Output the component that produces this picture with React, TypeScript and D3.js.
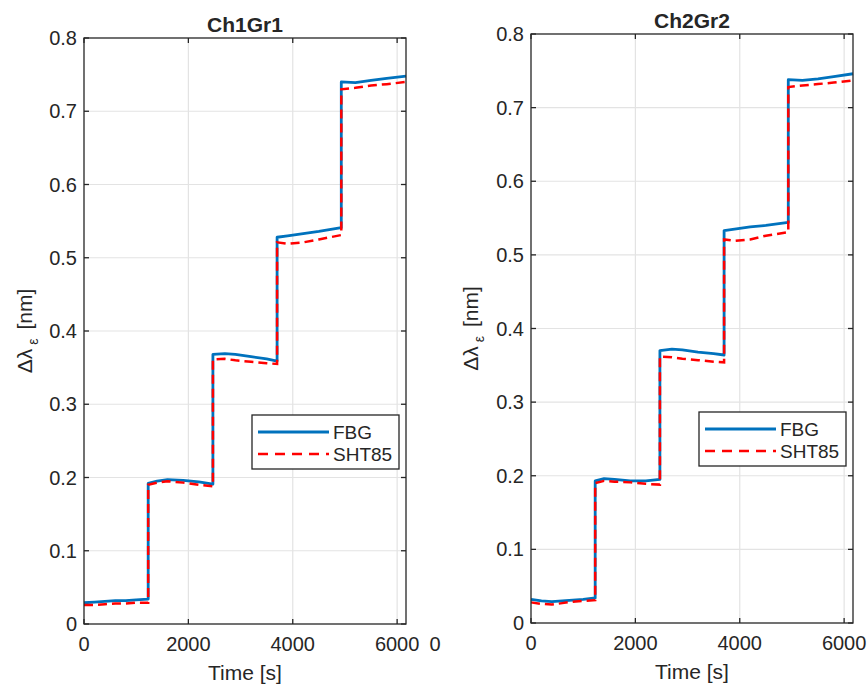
import * as d3 from "d3";

// shared time axis (s); repeated times make the vertical steps
const times = [
    0, 200, 400, 600, 800, 1000, 1230,
    1230, 1400, 1600, 1900, 2200, 2470,
    2470, 2700, 2900, 3200, 3500, 3700,
    3700, 3900, 4200, 4500, 4930,
    4930, 5200, 5500, 5800, 6170,
];

const ch1Fbg = [
    0.029, 0.030, 0.031, 0.032, 0.032, 0.033, 0.034,
    0.192, 0.195, 0.197, 0.196, 0.194, 0.191,
    0.368, 0.369, 0.368, 0.365, 0.362, 0.359,
    0.528, 0.530, 0.533, 0.536, 0.541,
    0.740, 0.739, 0.742, 0.745, 0.748,
];
const ch1Sht = [
    0.026, 0.026, 0.027, 0.028, 0.028, 0.029, 0.029,
    0.190, 0.193, 0.195, 0.193, 0.190, 0.188,
    0.361, 0.362, 0.360, 0.358, 0.356, 0.355,
    0.521, 0.519, 0.521, 0.525, 0.531,
    0.730, 0.732, 0.735, 0.737, 0.740,
];
const ch2Fbg = [
    0.032, 0.030, 0.029, 0.030, 0.031, 0.032, 0.034,
    0.193, 0.196, 0.195, 0.193, 0.193, 0.195,
    0.370, 0.372, 0.371, 0.368, 0.366, 0.364,
    0.533, 0.535, 0.538, 0.540, 0.544,
    0.738, 0.737, 0.739, 0.742, 0.746,
];
const ch2Sht = [
    0.028, 0.026, 0.025, 0.027, 0.029, 0.030, 0.031,
    0.190, 0.193, 0.192, 0.191, 0.189, 0.188,
    0.362, 0.361, 0.359, 0.357, 0.355, 0.354,
    0.521, 0.519, 0.521, 0.526, 0.531,
    0.728, 0.730, 0.732, 0.734, 0.737,
];

const xTicks = [0, 2000, 4000, 6000];
const yTicks = [0, 0.1, 0.2, 0.3, 0.4, 0.5, 0.6, 0.7, 0.8];
const legendNames = ["FBG", "SHT85"];

const FONT = "'Liberation Sans', Arial, sans-serif";
const INK = "#262626";
const BLUE = "#0072BD";
const RED = "#FF0000";

interface PanelProps {
    title: string;
    fbg: number[];
    sht: number[];
    left: number;
    right: number;
    top: number;
    bottom: number;
    labelX: number;
    legendX: number;
    legendY: number;
}

const Panel = ({ title, fbg, sht, left, right, top, bottom, labelX, legendX, legendY }: PanelProps) => {
    const x = d3.scaleLinear().domain([0, 6170]).range([left, right]);
    const y = d3.scaleLinear().domain([0, 0.8]).range([bottom, top]);

    const line = d3.line<number>()
        .x((_, i) => x(times[i]))
        .y(d => y(d));

    const tick = 5;
    const legW = 147;
    const legH = 54;

    return (
        <g fontFamily={FONT}>
            {/* grid */}
            {xTicks.filter(t => t > 0).map(t => (
                <line key={"gx" + t} x1={x(t)} x2={x(t)} y1={top} y2={bottom} stroke="#e3e3e3" strokeWidth={1.2} />
            ))}
            {yTicks.filter(t => t > 0 && t < 0.8).map(t => (
                <line key={"gy" + t} x1={left} x2={right} y1={y(t)} y2={y(t)} stroke="#e3e3e3" strokeWidth={1.2} />
            ))}

            {/* data */}
            <path d={line(fbg) ?? ""} fill="none" stroke={BLUE} strokeWidth={2.8} strokeLinejoin="round" />
            <path d={line(sht) ?? ""} fill="none" stroke={RED} strokeWidth={2.5} strokeDasharray="9,5" />

            {/* box + ticks */}
            <rect x={left} y={top} width={right - left} height={bottom - top} fill="none" stroke={INK} strokeWidth={1.3} />
            {xTicks.map(t => (
                <g key={"tx" + t}>
                    <line x1={x(t)} x2={x(t)} y1={bottom} y2={bottom - tick} stroke={INK} strokeWidth={1.3} />
                    <line x1={x(t)} x2={x(t)} y1={top} y2={top + tick} stroke={INK} strokeWidth={1.3} />
                    <text x={x(t)} y={bottom + 27} textAnchor="middle" fontSize={20} fill={INK}>{t}</text>
                </g>
            ))}
            {yTicks.map(t => (
                <g key={"ty" + t}>
                    <line x1={left} x2={left + tick} y1={y(t)} y2={y(t)} stroke={INK} strokeWidth={1.3} />
                    <line x1={right} x2={right - tick} y1={y(t)} y2={y(t)} stroke={INK} strokeWidth={1.3} />
                    <text x={left - 7} y={y(t)} dy="0.35em" textAnchor="end" fontSize={20} fill={INK}>{d3.format("~g")(t)}</text>
                </g>
            ))}

            {/* titles */}
            <text x={(left + right) / 2} y={top - 6} textAnchor="middle" fontSize={21} fontWeight="bold" fill={INK}>{title}</text>
            <text x={(left + right) / 2} y={bottom + 56} textAnchor="middle" fontSize={21} fill={INK}>Time [s]</text>
            <text transform={`translate(${labelX},${(top + bottom) / 2}) rotate(-90)`} textAnchor="middle" fontSize={21} fill={INK}>
                Δλ<tspan dx={4} dy={6} fontSize={14}>ε</tspan><tspan dx={3} dy={-6}> [nm]</tspan>
            </text>

            {/* legend */}
            <rect x={legendX} y={legendY} width={legW} height={legH} fill="white" stroke={INK} strokeWidth={1.3} />
            <line x1={legendX + 6} x2={legendX + 77} y1={legendY + 17} y2={legendY + 17} stroke={BLUE} strokeWidth={2.8} />
            <line x1={legendX + 6} x2={legendX + 77} y1={legendY + 39} y2={legendY + 39} stroke={RED} strokeWidth={2.5} strokeDasharray="10,7" />
            <text x={legendX + 81} y={legendY + 17} dy="0.35em" fontSize={19} fill={INK}>{legendNames[0]}</text>
            <text x={legendX + 81} y={legendY + 39} dy="0.35em" fontSize={19} fill={INK}>{legendNames[1]}</text>
        </g>
    );
};

export default function App() {
    return (
        <svg width={868} height={686} style={{ position: "absolute", left: 0, top: 0, background: "white" }}>
            <rect width={868} height={686} fill="white" />
            <Panel title="Ch1Gr1" fbg={ch1Fbg} sht={ch1Sht}
                left={84} right={406} top={38} bottom={624} labelX={32} legendX={252} legendY={415} />
            <Panel title="Ch2Gr2" fbg={ch2Fbg} sht={ch2Sht}
                left={531} right={853} top={34} bottom={623} labelX={478} legendX={699} legendY={412} />
            <text x={435} y={651} textAnchor="middle" fontSize={20} fontFamily={FONT} fill={INK}>0</text>
        </svg>
    );
}
